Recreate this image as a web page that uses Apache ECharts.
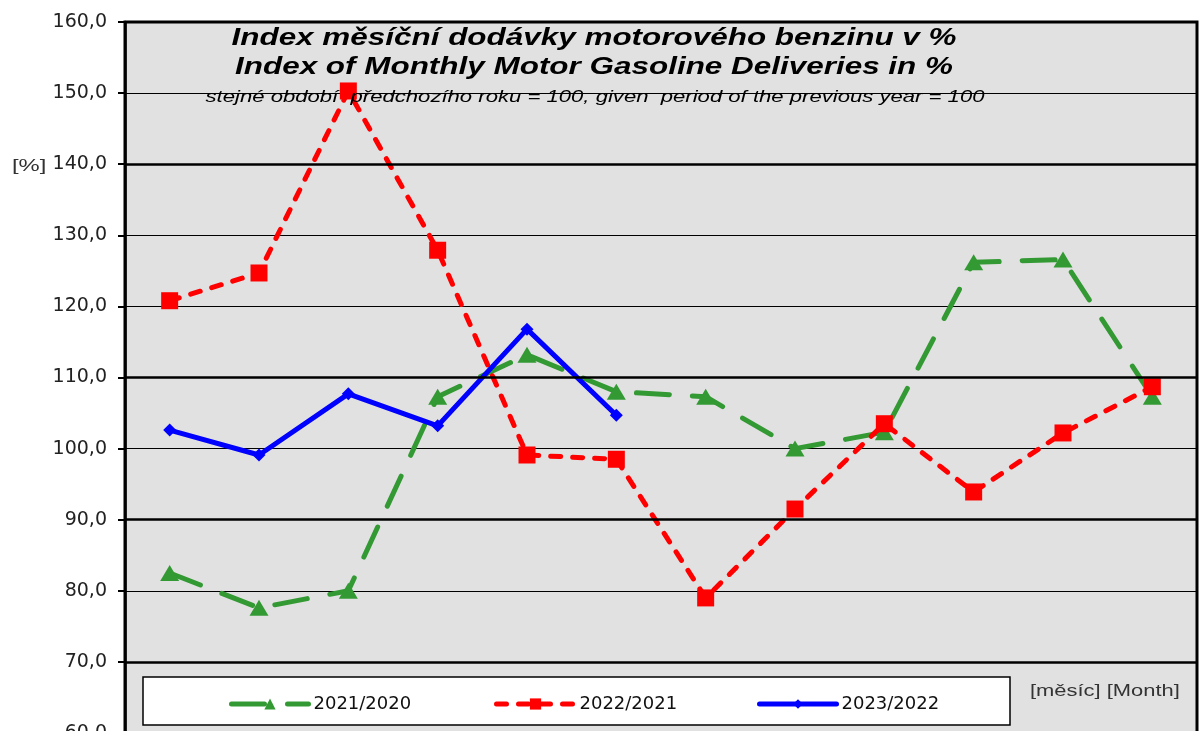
<!DOCTYPE html>
<html>
<head>
<meta charset="utf-8">
<script src="https://cdn.jsdelivr.net/npm/echarts@6/dist/echarts.min.js"></script>
<style>
html,body{margin:0;padding:0;background:#fff;}
#c{width:1199px;height:731px;}
</style>
</head>
<body>
<div id="c"></div>
<script>
const months = ['1','2','3','4','5','6','7','8','9','10','11','12'];
const s2021 = [82.5, 77.6, 80.0, 107.3, 113.2, 108.0, 107.3, 100.0, 102.3, 126.2, 126.6, 107.3];
const s2022 = [120.8, 124.7, 150.3, 127.9, 99.1, 98.5, 79.0, 91.5, 103.5, 93.9, 102.2, 108.7];
const s2023 = [102.6, 99.1, 107.7, 103.2, 116.8, 104.7];
const seriesNames = ['2021/2020', '2022/2021', '2023/2022'];
const titleLines = ['Index měsíční dodávky motorového benzinu v %', 'Index of Monthly Motor Gasoline Deliveries in %'];
const subtitleText = 'stejné období  předchozího roku = 100, given  period of the previous year = 100';
const yUnit = '[%]';
const xUnit = '[měsíc] [Month]';
const heavyGrid = [140, 110, 90, 70];

const chart = echarts.init(document.getElementById('c'));
const wide = 'DejaVu Sans, Verdana, sans-serif';
const legendText = {fontFamily: wide, fontSize: 18, color: '#111'};
const legendLine = {width: 5, cap: 'round'};
chart.setOption({
  animation: false,
  backgroundColor: '#ffffff',
  grid: {
    left: 125, right: 2, top: 22, height: 711,
    outerBoundsMode: 'none', containLabel: false,
    show: true, backgroundColor: '#e1e1e1', borderColor: '#000', borderWidth: 3
  },
  xAxis: {
    type: 'category', data: months, boundaryGap: true,
    axisLine: {show: false}, axisTick: {show: false}, axisLabel: {show: false}, splitLine: {show: false}
  },
  yAxis: {
    type: 'value', min: 60, max: 160, interval: 10,
    axisLine: {show: true, lineStyle: {color: '#000', width: 2.5}},
    axisTick: {show: true, length: 7, lineStyle: {color: '#000', width: 2}},
    axisLabel: {
      formatter: v => v.toFixed(1).replace('.', ','),
      fontFamily: wide, fontSize: 19, color: '#222', margin: 18
    },
    splitLine: {show: true, lineStyle: {color: '#000', width: 1}}
  },
  legend: [
    {data: [seriesNames[0]], left: 224, top: 690, itemWidth: 77, itemHeight: 14, z: 10, textStyle: legendText, lineStyle: legendLine},
    {data: [seriesNames[1]], left: 489, top: 690, itemWidth: 78, itemHeight: 14, z: 10, textStyle: legendText, lineStyle: legendLine},
    {data: [seriesNames[2]], left: 752, top: 690, itemWidth: 77, itemHeight: 12, z: 10, textStyle: legendText, lineStyle: legendLine}
  ],
  graphic: [
    {type: 'rect', z: 3, shape: {x: 143, y: 677, width: 867, height: 48},
     style: {fill: '#fff', stroke: '#000', lineWidth: 1.5}},
    {type: 'text', z: 5, x: 594, y: 38, scaleX: 1.31,
     style: {text: titleLines[0], font: 'italic bold 24px Liberation Sans, Arial, sans-serif', fill: '#000', align: 'center', verticalAlign: 'middle'}},
    {type: 'text', z: 5, x: 594, y: 67, scaleX: 1.31,
     style: {text: titleLines[1], font: 'italic bold 24px Liberation Sans, Arial, sans-serif', fill: '#000', align: 'center', verticalAlign: 'middle'}},
    {type: 'text', z: 5, x: 595, y: 97, scaleX: 1.3,
     style: {text: subtitleText, font: 'italic 17px Liberation Sans, Arial, sans-serif', fill: '#000', align: 'center', verticalAlign: 'middle'}},
    {type: 'text', z: 5, x: 1030, y: 692, scaleX: 1.37,
     style: {text: xUnit, font: '16px Liberation Sans, Arial, sans-serif', fill: '#333', align: 'left', verticalAlign: 'middle'}},
    {type: 'text', z: 5, x: 12, y: 166, scaleX: 1.4,
     style: {text: yUnit, font: '17px Liberation Sans, Arial, sans-serif', fill: '#333', align: 'left', verticalAlign: 'middle'}}
  ],
  series: [
    {
      name: seriesNames[0], type: 'line', data: s2021,
      symbol: 'triangle', symbolSize: [19, 16],
      itemStyle: {color: '#339933'},
      lineStyle: {color: '#339933', width: 5, type: [33, 23], cap: 'round'},
      markLine: {
        silent: true, symbol: 'none', label: {show: false},
        lineStyle: {color: '#000', width: 2.5, type: 'solid'},
        data: heavyGrid.map(v => ({yAxis: v}))
      },
      z: 2
    },
    {
      name: seriesNames[1], type: 'line', data: s2022,
      symbol: 'rect', symbolSize: 17,
      itemStyle: {color: '#ff0000'},
      lineStyle: {color: '#ff0000', width: 5, type: [10, 12], cap: 'round'},
      z: 3
    },
    {
      name: seriesNames[2], type: 'line', data: s2023,
      symbol: 'diamond', symbolSize: 13,
      itemStyle: {color: '#0000ff'},
      lineStyle: {color: '#0000ff', width: 5, type: 'solid'},
      z: 4
    }
  ]
});
</script>
</body>
</html>
